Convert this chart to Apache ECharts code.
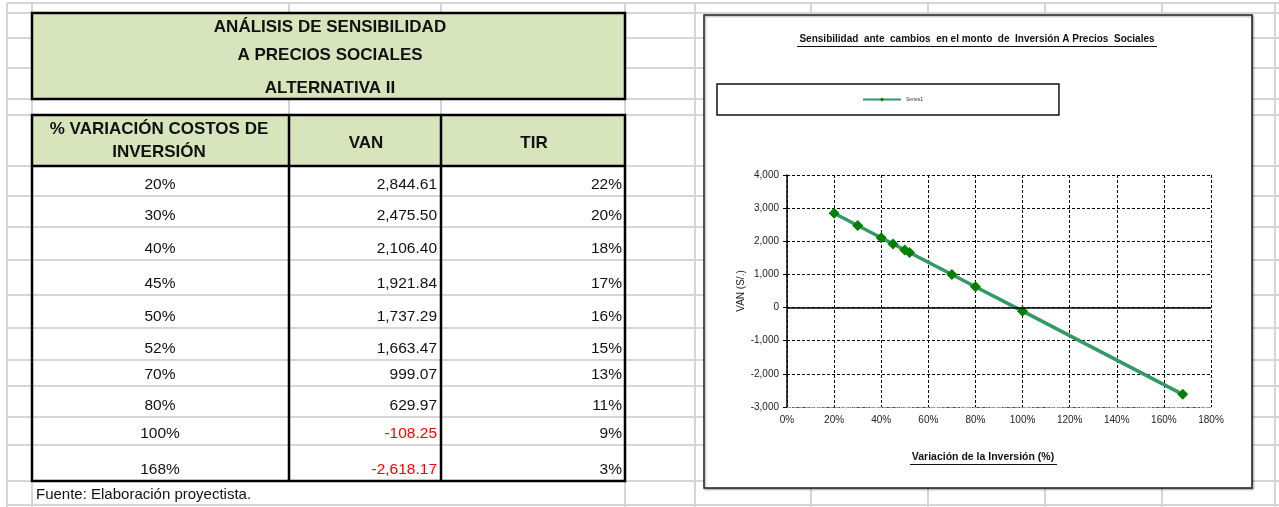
<!DOCTYPE html>
<html>
<head>
<meta charset="utf-8">
<script src="https://cdn.jsdelivr.net/npm/echarts@6/dist/echarts.min.js"></script>
<style>
  html, body { margin: 0; padding: 0; background: #fff; }
  #main { width: 1279px; height: 507px; }
</style>
</head>
<body>
<div id="main"></div>
<script>
// Data read from the spreadsheet
const variacion = [20, 30, 40, 45, 50, 52, 70, 80, 100, 168];
const van = [2844.61, 2475.5, 2106.4, 1921.84, 1737.29, 1663.47, 999.07, 629.97, -108.25, -2618.17];
const tir = [22, 20, 18, 17, 16, 15, 13, 11, 9, 3];

const tituloTabla = ["ANÁLISIS DE SENSIBILIDAD", "A PRECIOS SOCIALES", "ALTERNATIVA II"];
const encabezados = ["% VARIACIÓN COSTOS DE\nINVERSIÓN", "VAN", "TIR"];
const fuente = "Fuente: Elaboración proyectista.";
const tituloGrafico = "Sensibilidad  ante  cambios  en el monto  de  Inversión A Precios  Sociales";
const nombreEjeX = "Variación de la Inversión (%)";
const nombreEjeY = "VAN (S/.)";
const nombreSerie = "Series1";

// Sheet layout (pixels)
const FONT = "'Liberation Sans', Arial, sans-serif";
const sheetCols = [7, 32, 625, 695, 811, 928, 1045, 1162, 1275];
const sheetRows = [3, 13, 38, 68, 99, 115, 166, 196, 227, 260, 295, 328, 360, 386, 417, 445, 481, 505];
const rowBottoms = [196, 227, 260, 295, 328, 360, 386, 417, 445, 481];
const GRID_GRAY = "#d6d6d6";
const GREEN_FILL = "#d8e4bc";

function fmtNum(v) {
  return v.toLocaleString("en-US", { minimumFractionDigits: 2, maximumFractionDigits: 2 });
}

const elements = [];

// spreadsheet gridlines
sheetRows.forEach((y) => {
  elements.push({ type: "line", z: -5, silent: true,
    shape: { x1: 7, y1: y, x2: 1279, y2: y }, style: { stroke: GRID_GRAY, lineWidth: 2 } });
});
sheetCols.forEach((x) => {
  elements.push({ type: "line", z: -5, silent: true,
    shape: { x1: x, y1: 3, x2: x, y2: 507 }, style: { stroke: GRID_GRAY, lineWidth: 2 } });
});
[289, 441].forEach((x) => {
  elements.push({ type: "line", z: -5, silent: true,
    shape: { x1: x, y1: 3, x2: x, y2: 481 }, style: { stroke: GRID_GRAY, lineWidth: 2 } });
});

// title box of the table
elements.push({ type: "rect", z: -3, shape: { x: 32, y: 13, width: 593, height: 86 },
  style: { fill: GREEN_FILL, stroke: "#000", lineWidth: 2.5 } });
[27, 55, 88].forEach((y, i) => {
  elements.push({ type: "text", z: -2, x: 330, y: y,
    style: { text: tituloTabla[i], font: "bold 17px " + FONT, fill: "#111",
      align: "center", verticalAlign: "middle" } });
});

// header row
elements.push({ type: "rect", z: -3, shape: { x: 32, y: 115, width: 593, height: 51 },
  style: { fill: GREEN_FILL } });
elements.push({ type: "text", z: -2, x: 159, y: 141,
  style: { text: encabezados[0], font: "bold 17px " + FONT, fill: "#111", lineHeight: 23,
    align: "center", verticalAlign: "middle" } });
elements.push({ type: "text", z: -2, x: 366, y: 143,
  style: { text: encabezados[1], font: "bold 17px " + FONT, fill: "#111", align: "center", verticalAlign: "middle" } });
elements.push({ type: "text", z: -2, x: 534, y: 143,
  style: { text: encabezados[2], font: "bold 17px " + FONT, fill: "#111", align: "center", verticalAlign: "middle" } });

// data rows
variacion.forEach((v, i) => {
  const y = rowBottoms[i] - 11;
  elements.push({ type: "text", z: -2, x: 160, y: y,
    style: { text: v + "%", font: "15.5px " + FONT, fill: "#111", align: "center", verticalAlign: "middle" } });
  elements.push({ type: "text", z: -2, x: 437, y: y,
    style: { text: fmtNum(van[i]), font: "15.5px " + FONT, fill: van[i] < 0 ? "#ff0000" : "#111",
      align: "right", verticalAlign: "middle" } });
  elements.push({ type: "text", z: -2, x: 622, y: y,
    style: { text: tir[i] + "%", font: "15.5px " + FONT, fill: "#111", align: "right", verticalAlign: "middle" } });
});

// table borders
elements.push({ type: "rect", z: -1, shape: { x: 32, y: 115, width: 593, height: 366 },
  style: { fill: null, stroke: "#000", lineWidth: 2.5 } });
elements.push({ type: "line", z: -1, shape: { x1: 32, y1: 166, x2: 625, y2: 166 },
  style: { stroke: "#000", lineWidth: 2.5 } });
[289, 441].forEach((x) => {
  elements.push({ type: "line", z: -1, shape: { x1: x, y1: 115, x2: x, y2: 481 },
    style: { stroke: "#000", lineWidth: 2.5 } });
});

// footnote
elements.push({ type: "rect", z: -4, shape: { x: 33, y: 482, width: 591, height: 22 }, style: { fill: "#fff" } });
elements.push({ type: "text", z: -2, x: 36, y: 495,
  style: { text: fuente, font: "15px " + FONT, fill: "#111", align: "left", verticalAlign: "middle" } });

// chart frame
elements.push({ type: "rect", z: -1, shape: { x: 704, y: 15, width: 548, height: 473 },
  style: { fill: "#fff", stroke: "#222", lineWidth: 1.5,
    shadowBlur: 2, shadowOffsetX: 1, shadowOffsetY: 1, shadowColor: "rgba(0,0,0,0.35)" } });

// underlines for chart title and x axis name
elements.push({ type: "line", z: 10, shape: { x1: 797, y1: 46.5, x2: 1157, y2: 46.5 },
  style: { stroke: "#111", lineWidth: 1 } });
elements.push({ type: "line", z: 10, shape: { x1: 910, y1: 464.5, x2: 1057, y2: 464.5 },
  style: { stroke: "#111", lineWidth: 1 } });

const chart = echarts.init(document.getElementById("main"));

const option = {
  animation: false,
  textStyle: { fontFamily: FONT },
  title: {
    text: tituloGrafico,
    left: 977,
    top: 34,
    textAlign: "center",
    padding: 0,
    textStyle: { fontSize: 10, fontWeight: "bold", color: "#111", fontFamily: FONT },
  },
  legend: {
    data: [nombreSerie],
    left: 717,
    top: 84,
    padding: [13, 136, 13, 145],
    borderColor: "#111",
    borderWidth: 1.5,
    itemWidth: 38,
    itemHeight: 5,
    itemGap: 4,
    textStyle: { fontSize: 5, color: "#333", fontFamily: FONT },
  },
  grid: {
    left: 787,
    top: 175,
    width: 424,
    height: 232,
    containLabel: false,
  },
  xAxis: {
    type: "value",
    min: 0,
    max: 180,
    interval: 20,
    name: nombreEjeX,
    nameLocation: "middle",
    nameGap: 45,
    nameTextStyle: { fontSize: 10.5, fontWeight: "bold", color: "#111", padding: [0, 32, 0, 0] },
    axisLine: { show: true, onZero: false, lineStyle: { color: "#999", type: "dashed", width: 1 } },
    axisTick: { show: false },
    axisLabel: { fontSize: 10, color: "#222", margin: 8, formatter: "{value}%" },
    splitLine: { show: true, lineStyle: { color: "#000", type: [3, 2], width: 1 } },
  },
  yAxis: {
    type: "value",
    min: -3000,
    max: 4000,
    interval: 1000,
    name: nombreEjeY,
    nameLocation: "middle",
    nameGap: 40,
    nameTextStyle: { fontSize: 10, color: "#222" },
    axisLine: { show: true, onZero: false, lineStyle: { color: "#000", width: 1.5 } },
    axisTick: { show: true, length: 4, lineStyle: { color: "#000" } },
    axisLabel: { fontSize: 10, color: "#222", margin: 8,
      formatter: (v) => v.toLocaleString("en-US") },
    splitLine: { show: true, lineStyle: { color: "#000", type: [3, 2], width: 1 } },
  },
  series: [
    {
      name: nombreSerie,
      type: "line",
      data: variacion.map((x, i) => [x, van[i]]),
      symbol: "diamond",
      symbolSize: 11,
      lineStyle: { color: "#339966", width: 3.5 },
      itemStyle: { color: "#008000" },
      markLine: {
        silent: true,
        symbol: "none",
        label: { show: false },
        lineStyle: { color: "#000", type: "solid", width: 1.5 },
        data: [{ yAxis: 0 }],
      },
    },
  ],
  graphic: { elements: elements },
};

chart.setOption(option);
</script>
</body>
</html>
